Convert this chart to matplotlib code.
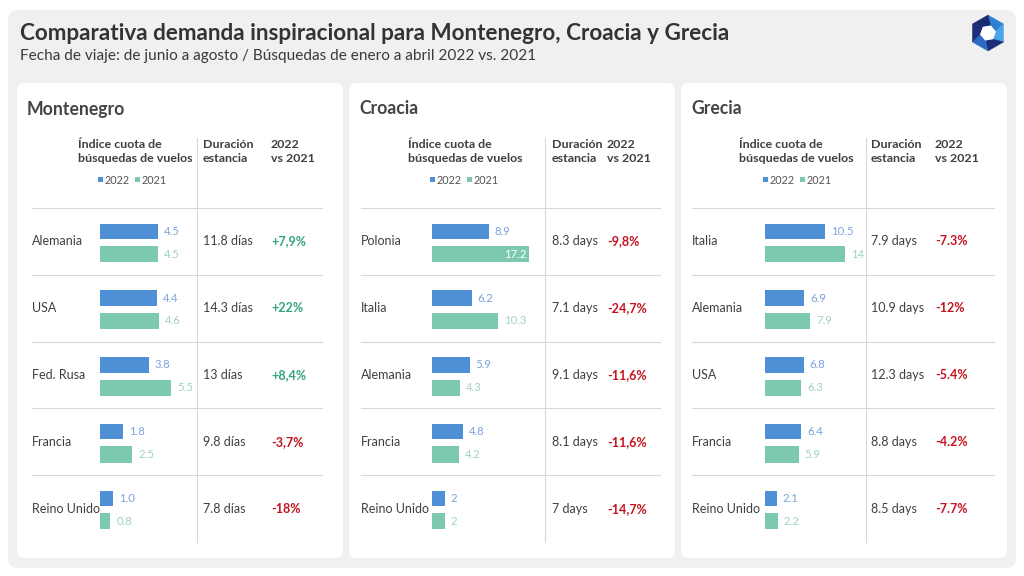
import matplotlib
matplotlib.use("Agg")
import matplotlib.pyplot as plt
import numpy as np
from matplotlib.patches import FancyBboxPatch, Polygon, Rectangle

plt.rcParams['font.family'] = ['Lato', 'DejaVu Sans']

# ---- datos ----
TITLE = "Comparativa demanda inspiracional para Montenegro, Croacia y Grecia"
SUBTITLE = "Fecha de viaje: de junio a agosto / Búsquedas de enero a abril 2022 vs. 2021"

destinos = ["Montenegro", "Croacia", "Grecia"]

paises_mne = ["Alemania", "USA", "Fed. Rusa", "Francia", "Reino Unido"]
indice22_mne = [4.5, 4.4, 3.8, 1.8, 1.0]
indice21_mne = [4.5, 4.6, 5.5, 2.5, 0.8]
estancia_mne = ["11.8 días", "14.3 días", "13 días", "9.8 días", "7.8 días"]
cambio_mne = ["+7,9%", "+22%", "+8,4%", "-3,7%", "-18%"]

paises_hrv = ["Polonia", "Italia", "Alemania", "Francia", "Reino Unido"]
indice22_hrv = [8.9, 6.2, 5.9, 4.8, 2]
indice21_hrv = [17.2, 10.3, 4.3, 4.2, 2]
estancia_hrv = ["8.3 days", "7.1 days", "9.1 days", "8.1 days", "7 days"]
cambio_hrv = ["-9,8%", "-24,7%", "-11,6%", "-11,6%", "-14,7%"]

paises_grc = ["Italia", "Alemania", "USA", "Francia", "Reino Unido"]
indice22_grc = [10.5, 6.9, 6.8, 6.4, 2.1]
indice21_grc = [14, 7.9, 6.3, 5.9, 2.2]
estancia_grc = ["7.9 days", "10.9 days", "12.3 days", "8.8 days", "8.5 days"]
cambio_grc = ["-7.3%", "-12%", "-5.4%", "-4.2%", "-7.7%"]

# ---- estilo ----
C_2022 = "#4f8fd6"
C_2021 = "#7dc9ae"
C_LAB22 = "#7aa5d9"
C_LAB21 = "#9fd3c0"
C_POS = "#35a57a"
C_NEG = "#c3141f"
C_TXT = "#3f3f3f"
C_GRID = "#d9d9d9"

W, H = 1024, 576
fig = plt.figure(figsize=(W / 100, H / 100), dpi=100)

# eje de fondo en pixeles
bg = fig.add_axes([0, 0, 1, 1])
bg.set_xlim(0, W)
bg.set_ylim(H, 0)
bg.axis('off')

bg.add_patch(FancyBboxPatch((8, 10), 1008, 558, boxstyle="round,pad=0,rounding_size=10",
                            fc="#f0f0f0", ec="none"))
bg.text(20, 34, TITLE, fontsize=16.2, fontweight='bold', color="#333333", va='center')
bg.text(20, 56, SUBTITLE, fontsize=11.1, color="#3a3a3a", va='center')

# logo
cx, cy = 988, 33
ang = np.deg2rad(-90 + 60 * np.arange(7))
outer = np.c_[cx + 18 * np.cos(ang), cy + 18 * np.sin(ang)]
ang_in = ang + np.deg2rad(20)
inner = np.c_[cx + 8 * np.cos(ang_in), cy + 8 * np.sin(ang_in)]
logo_cols = ["#2f7fd2", "#4aa6e6", "#1d2d7c", "#2c6cc2", "#1d2d7c", "#1a2a72"]
for k in range(6):
    bg.add_patch(Polygon([outer[k], outer[k + 1], inner[k + 1], inner[k]],
                         closed=True, fc=logo_cols[k], ec=logo_cols[k], lw=0.3))
bg.add_patch(Polygon(inner[:6], closed=True, fc="white", ec="none"))

paneles = [
    (paises_mne, indice22_mne, indice21_mne, estancia_mne, cambio_mne),
    (paises_hrv, indice22_hrv, indice21_hrv, estancia_hrv, cambio_hrv),
    (paises_grc, indice22_grc, indice21_grc, estancia_grc, cambio_grc),
]

# posiciones (pixeles) por panel
panel_x = [17, 349, 681]
panel_w = 326
col_country = [15, 12, 11]
col_bar = [83, 83, 84]
col_vline = [180, 196, 185]
col_stay = [186, 203, 190]
col_pct = [254, 258, 254]
col_head = [61, 59, 58]
line_end = [305, 311, 313]
ppu = [12.9, 6.4, 5.7]       # pixeles por unidad
xmax = [8.0, 15.2, 18.0]

top, bottom = 208, 542
nrows = 5
row_h = (bottom - top) / nrows
fmt = ["{:.1f}", "{:g}", "{:g}"]

for p, (paises, v22, v21, estancia, cambio) in enumerate(paneles):
    x0 = panel_x[p]
    bg.add_patch(FancyBboxPatch((x0, 83), panel_w, 475, boxstyle="round,pad=0,rounding_size=8",
                                fc="white", ec="none"))
    bg.text(x0 + 10, 109, destinos[p], fontsize=12.7, fontweight='bold', color="#444444", va='center')

    hx = x0 + col_head[p]
    bg.text(hx, 145, "Índice cuota de", fontsize=8.9, fontweight='bold', color=C_TXT, va='center')
    bg.text(hx, 159, "búsquedas de vuelos", fontsize=8.9, fontweight='bold', color=C_TXT, va='center')
    lx = x0 + col_bar[p] - 2
    bg.add_patch(Rectangle((lx, 177), 4.5, 5, fc=C_2022, ec='none'))
    bg.text(lx + 7, 180, "2022", fontsize=7.8, color="#555555", va='center')
    bg.add_patch(Rectangle((lx + 37, 177), 4.5, 5, fc=C_2021, ec='none'))
    bg.text(lx + 44, 180, "2021", fontsize=7.8, color="#555555", va='center')

    bg.text(x0 + col_stay[p], 145, "Duración", fontsize=8.9, fontweight='bold', color=C_TXT, va='center')
    bg.text(x0 + col_stay[p], 159, "estancia", fontsize=8.9, fontweight='bold', color=C_TXT, va='center')
    bg.text(x0 + col_pct[p], 145, "2022", fontsize=8.9, fontweight='bold', color=C_TXT, va='center')
    bg.text(x0 + col_pct[p], 159, "vs 2021", fontsize=8.9, fontweight='bold', color=C_TXT, va='center')

    bg.plot([x0 + col_vline[p]] * 2, [138, bottom], color=C_GRID, lw=0.8)
    for r in range(nrows):
        y = top + r * row_h
        bg.plot([x0 + col_country[p], x0 + line_end[p]], [y, y], color=C_GRID, lw=0.8)
        yc = y + row_h / 2
        bg.text(x0 + col_country[p], yc, paises[r], fontsize=9, color=C_TXT, va='center')
        bg.text(x0 + col_stay[p], yc, estancia[r], fontsize=9, color=C_TXT, va='center')
        col = C_POS if cambio[r].startswith('+') else C_NEG
        bg.text(x0 + col_pct[p], yc, cambio[r], fontsize=9, fontweight='bold', color=col, va='center')

    # barras
    aw = xmax[p] * ppu[p]
    ax = fig.add_axes([(x0 + col_bar[p]) / W, 1 - bottom / H, aw / W, (bottom - top) / H])
    ax.set_xlim(0, xmax[p])
    ax.set_ylim(nrows, 0)
    ax.axis('off')
    pos = np.arange(nrows) + 0.5
    ax.barh(pos - 0.15, v22, height=0.23, color=C_2022)
    ax.barh(pos + 0.19, v21, height=0.24, color=C_2021)
    for i in range(nrows):
        for val, yy, lc in ((v22[i], pos[i] - 0.15, C_LAB22), (v21[i], pos[i] + 0.19, C_LAB21)):
            txt = fmt[p].format(val)
            if val > xmax[p]:
                ax.annotate(txt, (xmax[p], yy), xytext=(-3, 0), textcoords='offset pixels',
                            ha='right', va='center', fontsize=8.2, color='white', annotation_clip=False)
            else:
                ax.annotate(txt, (val, yy), xytext=(6, 0), textcoords='offset pixels',
                            ha='left', va='center', fontsize=8.2, color=lc, annotation_clip=False)

fig.savefig("out.png", dpi=100)
